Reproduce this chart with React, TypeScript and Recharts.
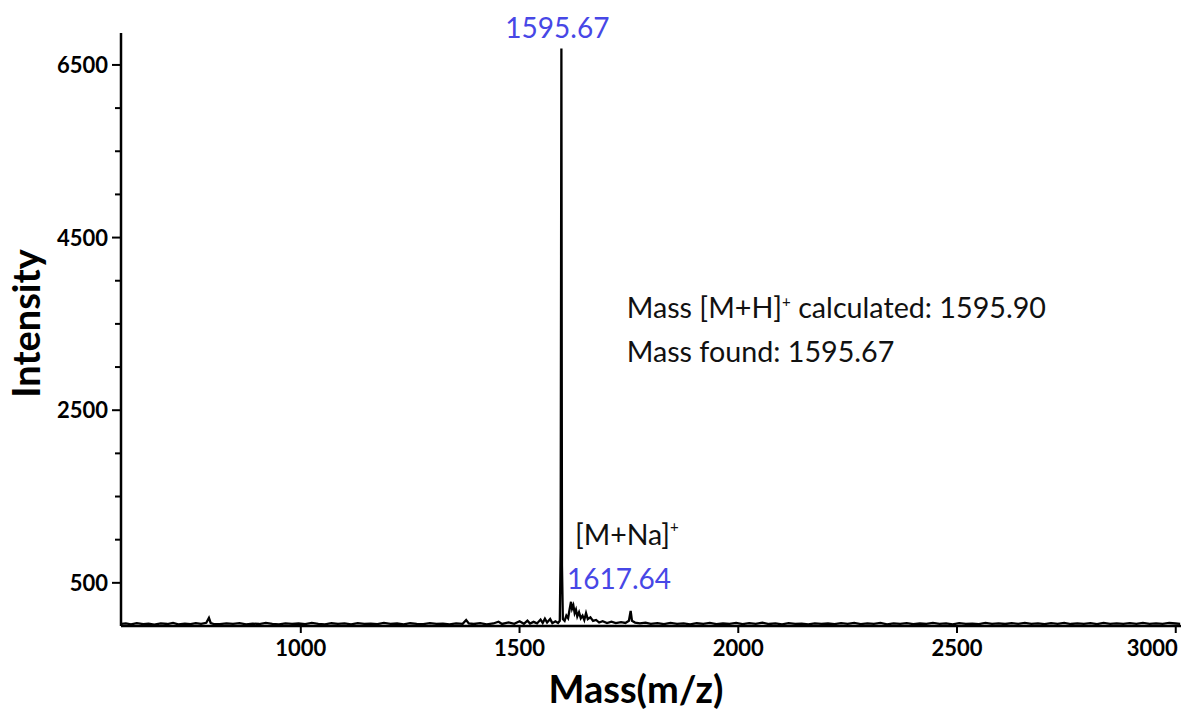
import { LineChart, Line, XAxis, YAxis, ReferenceDot } from "recharts";

// [m/z, intensity]
const spectrumLow: [number, number][] = [
    [590, 24], [600, 30], [612, 18], [625, 33], [640, 21], [652, 28], [665, 16], [680, 31], [695, 23],
    [708, 35], [720, 20], [735, 27], [748, 22], [760, 33], [772, 25], [784, 37], [790, 95], [794, 35],
    [800, 25], [815, 21], [830, 30], [845, 24], [860, 33], [875, 20], [890, 28], [905, 23], [920, 35],
    [935, 25], [950, 18], [965, 31], [980, 24], [995, 29], [1010, 21], [1025, 35], [1040, 25], [1055, 20],
    [1070, 32], [1085, 24], [1100, 30], [1115, 18], [1130, 33], [1145, 25], [1160, 28], [1175, 21],
    [1190, 35], [1205, 24], [1220, 29], [1235, 19], [1250, 32], [1265, 25], [1280, 22], [1295, 34],
    [1310, 24], [1325, 28], [1340, 20], [1355, 31], [1370, 25], [1378, 70], [1384, 30], [1395, 23],
    [1410, 33], [1425, 20], [1440, 29], [1452, 50], [1460, 24], [1475, 42], [1488, 26], [1500, 55],
];

const spectrumPeaks: [number, number][] = [
    [1510, 26], [1518, 62], [1524, 28], [1532, 48], [1540, 30], [1548, 75], [1553, 35], [1558, 85],
    [1563, 40], [1570, 80], [1575, 33], [1582, 55], [1588, 35], [1592, 60], [1594, 900], [1595.67, 6690],
    [1597, 700], [1599, 80], [1603, 60], [1607, 120], [1611, 90], [1614, 180], [1617.64, 280], [1620, 200],
    [1623, 240], [1626, 150], [1629, 190], [1632, 110], [1636, 160], [1640, 90], [1644, 120], [1648, 70],
    [1652, 150], [1656, 80], [1662, 100], [1668, 60], [1675, 70], [1682, 40], [1690, 55], [1700, 35],
    [1710, 50], [1720, 33], [1732, 45], [1742, 35], [1750, 60], [1754, 175], [1757, 60], [1764, 40],
    [1775, 30], [1788, 38], [1800, 25],
];

const spectrumHigh: [number, number][] = [
    [1815, 33], [1830, 21], [1845, 35], [1860, 24], [1875, 30], [1890, 18], [1905, 32], [1920, 25],
    [1935, 37], [1950, 22], [1965, 29], [1980, 24], [1995, 35], [2010, 21], [2025, 33], [2040, 25],
    [2055, 39], [2070, 23], [2085, 30], [2100, 20], [2115, 33], [2130, 25], [2145, 28], [2160, 18],
    [2175, 31], [2190, 24], [2205, 29], [2220, 21], [2235, 33], [2250, 25], [2265, 37], [2280, 22],
    [2295, 30], [2310, 24], [2325, 35], [2340, 20], [2355, 31], [2370, 25], [2385, 33], [2400, 21],
    [2415, 29], [2430, 24], [2445, 35], [2460, 25], [2475, 31], [2490, 20], [2505, 33], [2520, 25],
    [2535, 28], [2550, 21], [2565, 35], [2580, 25], [2595, 31], [2610, 23], [2625, 33], [2640, 25],
    [2655, 37], [2670, 24], [2685, 30], [2700, 22], [2715, 33], [2730, 25], [2745, 35], [2760, 23],
    [2775, 31], [2790, 25], [2805, 33], [2820, 21], [2835, 35], [2850, 25], [2865, 31], [2880, 24],
    [2895, 33], [2910, 25], [2925, 37], [2940, 24], [2955, 31], [2970, 25], [2985, 35], [3000, 29],
    [3010, 24],
];

const xTicks = [1000, 1500, 2000, 2500, 3000];
const yTicks = [500, 1000, 1500, 2000, 2500, 3000, 3500, 4000, 4500, 5000, 5500, 6000, 6500];
const yMajor = [500, 2500, 4500, 6500];

const mainPeak = { mz: 1595.67, intensity: 6690 };
const naPeak = { mz: 1617.64, intensity: 280 };

const data = [...spectrumLow, ...spectrumPeaks, ...spectrumHigh].map(([mz, intensity]) => ({ mz, intensity }));

const FONT = "Lato, sans-serif";
const BLUE = "#4747e6";

const YTick = (props: any) => {
    const { x, y, payload } = props;
    const major = yMajor.includes(payload.value);
    return (
        <g>
            <line x1={x - (major ? 9 : 6)} x2={x} y1={y} y2={y} stroke="#000" strokeWidth={2} />
            {major && (
                <text x={x - 13} y={y + 8} textAnchor="end" fontFamily={FONT} fontWeight="bold" fontSize={22} fill="#000">
                    {payload.value}
                </text>
            )}
        </g>
    );
};

const XTick = (props: any) => {
    const { x, y, payload, index } = props;
    const last = index === xTicks.length - 1;
    return (
        <g>
            <line x1={x} x2={x} y1={y} y2={y + 7} stroke="#000" strokeWidth={2} />
            <text x={last ? x + 2 : x} y={y + 30} textAnchor={last ? "end" : "middle"} fontFamily={FONT} fontWeight="bold" fontSize={22} fill="#000">
                {payload.value}
            </text>
        </g>
    );
};

const YTitle = (props: any) => {
    const { viewBox } = props;
    const cx = 40;
    const cy = viewBox.y + viewBox.height / 2 - 6;
    return (
        <text x={cx} y={cy} transform={`rotate(-90, ${cx}, ${cy})`} textAnchor="middle" fontFamily={FONT} fontWeight="bold" fontSize={38} fill="#000">
            Intensity
        </text>
    );
};

const XTitle = (props: any) => {
    const { viewBox } = props;
    return (
        <text x={viewBox.x + viewBox.width / 2 - 15} y={viewBox.y + 77} textAnchor="middle" fontFamily={FONT} fontWeight="bold" fontSize={38} fill="#000">
            Mass(m/z)
        </text>
    );
};

const PeakLabel = (props: any) => {
    const { viewBox, text, dx = 0, dy = 0, anchor = "middle" } = props;
    return (
        <text x={viewBox.x + dx} y={viewBox.y + dy} textAnchor={anchor} fontFamily={FONT} fontSize={28} fill={BLUE}>
            {text}
        </text>
    );
};

const NaLabel = (props: any) => {
    const { viewBox } = props;
    return (
        <text x={viewBox.x + 4} y={viewBox.y - 57} fontFamily={FONT} fontSize={28.5} fill="#111">
            [M+Na]<tspan dy={-13} fontSize={15}>+</tspan>
        </text>
    );
};

const MassInfo = (props: any) => {
    const { viewBox } = props;
    return (
        <g fontFamily={FONT} fontSize={28.7} fill="#111">
            <text x={viewBox.x} y={viewBox.y}>
                Mass [M+H]<tspan dy={-11} fontSize={15}>+</tspan>
                <tspan dy={11}> calculated: 1595.90</tspan>
            </text>
            <text x={viewBox.x} y={viewBox.y + 44}>
                Mass found: 1595.67
            </text>
        </g>
    );
};

const App = () => {
    return (
        <div style={{ position: "absolute", left: 0, top: 0, width: 1196, height: 711, background: "#fff" }}>
            <LineChart width={1196} height={711} data={data} margin={{ top: 33, right: 15, bottom: 0, left: 0 }}>
                <XAxis
                    dataKey="mz"
                    type="number"
                    domain={[589, 3012]}
                    allowDataOverflow
                    ticks={xTicks}
                    interval={0}
                    height={85}
                    tickSize={0}
                    tickMargin={0}
                    tickLine={false}
                    tick={<XTick />}
                    axisLine={{ stroke: "#000", strokeWidth: 2.5 }}
                    label={<XTitle />}
                />
                <YAxis
                    type="number"
                    domain={[0, 6870]}
                    allowDataOverflow
                    ticks={yTicks}
                    interval={0}
                    width={121}
                    tickSize={0}
                    tickMargin={0}
                    tickLine={false}
                    tick={<YTick />}
                    axisLine={{ stroke: "#000", strokeWidth: 2.5 }}
                    label={<YTitle />}
                />
                <Line
                    type="linear"
                    dataKey="intensity"
                    stroke="#000"
                    strokeWidth={2.3}
                    dot={false}
                    activeDot={false}
                    isAnimationActive={false}
                />
                <ReferenceDot x={mainPeak.mz} y={mainPeak.intensity} r={0} fill="none" stroke="none"
                    label={<PeakLabel text="1595.67" dx={-4} dy={-11} />} />
                <ReferenceDot x={naPeak.mz} y={naPeak.intensity} r={0} fill="none" stroke="none"
                    label={<PeakLabel text="1617.64" dx={-4} dy={-13} anchor="start" />} />
                <ReferenceDot x={naPeak.mz} y={naPeak.intensity} r={0} fill="none" stroke="none"
                    label={<NaLabel />} />
                <ReferenceDot x={1745} y={3568} r={0} fill="none" stroke="none"
                    label={<MassInfo />} />
            </LineChart>
        </div>
    );
};

export default App;
